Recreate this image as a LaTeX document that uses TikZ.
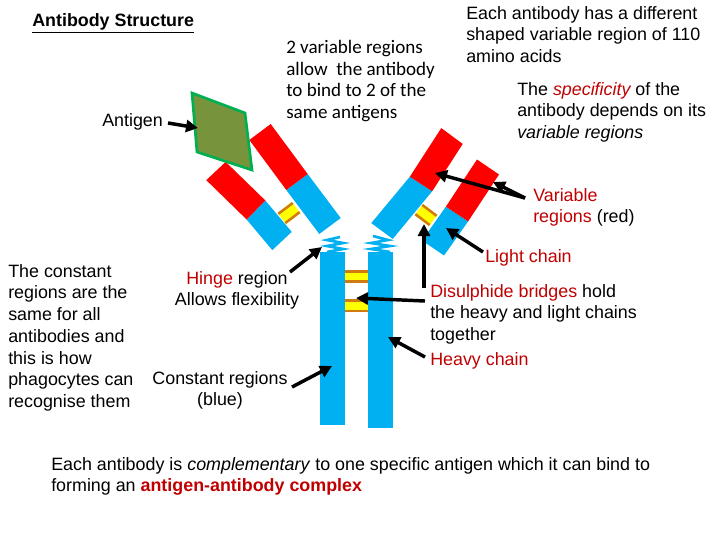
\documentclass[tikz,border=0pt]{standalone}
\usepackage{fontspec}
\setmainfont{Liberation Sans}
\newfontfamily\calib{Carlito}
\usetikzlibrary{calc,arrows.meta}
\definecolor{abblue}{HTML}{00B0F0}
\definecolor{abred}{HTML}{FF0000}
\definecolor{txtred}{HTML}{C00000}
\definecolor{bryel}{HTML}{FFFF00}
\definecolor{brorg}{HTML}{D07A10}
\definecolor{agfill}{HTML}{77933C}
\definecolor{aggreen}{HTML}{00B050}
\tikzset{
  arr/.style={line width=2.6pt,-{Triangle[length=9pt,width=9pt]}},
  txt/.style={anchor=north west,inner sep=0pt,align=left,font=\fontsize{13.4}{16.3}\selectfont},
  ctxt/.style={anchor=north,inner sep=0pt,align=center,font=\fontsize{13.4}{16.3}\selectfont},
}
\newcommand{\abarm}[4]{% bottom, mid, top, halfwidth
  \fill[abblue] ($(#1)!#4!90:(#3)$) -- ($(#1)!#4!-90:(#3)$) -- ($(#2)!#4!-90:(#3)$) -- ($(#2)!#4!90:(#3)$) -- cycle;
  \fill[abred] ($(#2)!#4!90:(#3)$) -- ($(#2)!#4!-90:(#3)$) -- ($(#3)!#4!90:(#1)$) -- ($(#3)!#4!-90:(#1)$) -- cycle;
}
\begin{document}
\begin{tikzpicture}[x=0.75pt,y=-0.75pt]
\useasboundingbox (0,0) rectangle (720,540);
% stems
\fill[abblue] (320,252) rectangle (345,425);
\fill[abblue] (368,252) rectangle (393,428);
% hinge zigzags
\draw[abblue,line width=2pt] (340,237) -- (327,240) -- (343,243) -- (327,246) -- (343,249) -- (327,252);
\draw[abblue,line width=2pt] (373,236) -- (388,240) -- (371,243) -- (390,246) -- (371,249) -- (390,252);
% central bridges
\fill[bryel] (345,270) rectangle (368,283);
\fill[brorg] (345,270) rectangle (368,273);
\fill[brorg] (345,280) rectangle (368,283);
\fill[bryel] (345,299) rectangle (368,312);
\fill[brorg] (345,299) rectangle (368,302);
\fill[brorg] (345,310) rectangle (368,312);
% arms
\coordinate (lhb) at (330,226); \coordinate (lhm) at (297,182); \coordinate (lht) at (260,132);
\coordinate (llb) at (282,241); \coordinate (llm) at (256,210); \coordinate (llt) at (216,171);
\coordinate (rhb) at (382,231); \coordinate (rhm) at (421,184); \coordinate (rht) at (452,136);
\coordinate (rlb) at (433,248); \coordinate (rlm) at (457,214); \coordinate (rlt) at (488,167);
\abarm{lhb}{lhm}{lht}{10pt}
\abarm{llb}{llm}{llt}{10pt}
\abarm{rhb}{rhm}{rht}{10pt}
\abarm{rlb}{rlm}{rlt}{10pt}
% arm bridges
\begin{scope}[shift={(289,213)},rotate=37]
\fill[bryel] (-9,-7) rectangle (9,7);
\fill[brorg] (-9,-7) rectangle (9,-4.5);
\fill[brorg] (-9,4.5) rectangle (9,7);
\end{scope}
\begin{scope}[shift={(426,215)},rotate=-37]
\fill[bryel] (-9,-7) rectangle (9,7);
\fill[brorg] (-9,-7) rectangle (9,-4.5);
\fill[brorg] (-9,4.5) rectangle (9,7);
\end{scope}
% antigen
\draw[fill=agfill,draw=aggreen,line width=2pt] (192,93) -- (245,113) -- (252,170) -- (197,152) -- cycle;
\coordinate (antigen) at (198,128);
% texts
\node[txt,font=\fontsize{13.4}{16.3}\selectfont\bfseries] (title) at (32,13) {\underline{Antibody Structure}};
\node[txt,font=\calib\fontsize{14.3}{16.3}\selectfont] (varnote) at (286,40) {2 variable regions\\allow\ \ the antibody\\to bind to 2 of the\\same antigens};
\node[txt] (antlab) at (102,113) {Antigen};
\node[txt] (eachvar) at (466,6) {Each antibody has a different\\shaped variable region of 110\\amino acids};
\node[txt] (spec) at (517,82) {The \textcolor{txtred}{\itshape specificity} of the\\antibody depends on its\\\itshape variable regions};
\node[txt] (varreg) at (533,188) {\textcolor{txtred}{Variable}\\\textcolor{txtred}{regions} (red)};
\node[txt,text=txtred] (light) at (485,249) {Light chain};
\node[txt] (disul) at (430,284) {\textcolor{txtred}{Disulphide bridges} hold\\the heavy and light chains\\together};
\node[txt,text=txtred] (heavy) at (430,352) {Heavy chain};
\node[txt] (const) at (8,264) {The constant\\regions are the\\same for all\\antibodies and\\this is how\\phagocytes can\\recognise them};
\node[ctxt] (hinge) at (237,271) {\textcolor{txtred}{Hinge} region\\Allows flexibility};
\node[ctxt] (constreg) at (220,371) {Constant regions\\(blue)};
\node[txt] (bottom) at (51,457) {Each antibody is \textit{complementary} to one specific antigen which it can bind to\\forming an \textcolor{txtred}{\bfseries antigen-antibody complex}};
% arrow targets
\coordinate (a1) at (168,123);
\coordinate (vt1) at (435,173); \coordinate (vt2) at (493,182); \coordinate (vs) at (525,198);
\coordinate (lt) at (446,228); \coordinate (ls) at (483,252);
\coordinate (ht) at (322,247); \coordinate (hs) at (290,272);
\coordinate (ct) at (332,366); \coordinate (cs) at (292,387);
\coordinate (dt) at (356,298); \coordinate (ds) at (425,301);
\coordinate (hvt) at (388,337); \coordinate (hvs) at (425,357);
\coordinate (vbt) at (424,224); \coordinate (vbs) at (424,288);
\draw[arr] (a1) -- (antigen);
\draw[arr] (vs) -- (vt1);
\draw[arr] (vs) -- (vt2);
\draw[arr] (ls) -- (lt);
\draw[arr] (hs) -- (ht);
\draw[arr] (cs) -- (ct);
\draw[arr] (ds) -- (dt);
\draw[arr] (hvs) -- (hvt);
\draw[arr] (vbs) -- (vbt);
\end{tikzpicture}
\end{document}
